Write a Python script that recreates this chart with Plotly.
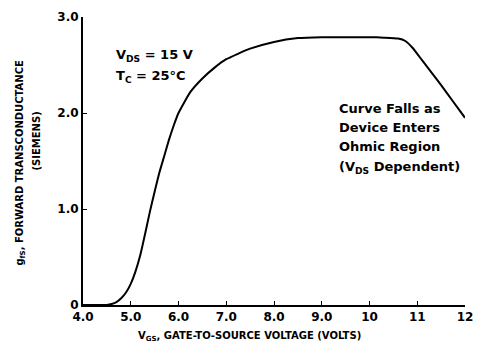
import plotly.graph_objects as go

vgs = [4.0, 4.5, 4.6, 4.7, 4.8, 4.9, 5.0, 5.1, 5.2, 5.3, 5.4, 5.5, 5.6, 5.7, 5.8, 5.9, 6.0, 6.25, 6.5, 6.75,
       7.0, 7.5, 8.0, 8.5, 9.0, 9.5, 10.0, 10.3, 10.6, 10.75, 10.9, 11.1, 11.3, 11.5, 11.75, 12.0]
gfs = [0.0, 0.0, 0.01, 0.03, 0.07, 0.13, 0.22, 0.35, 0.52, 0.74, 0.97, 1.18, 1.38, 1.55, 1.72, 1.87, 2.0, 2.22,
       2.36, 2.47, 2.56, 2.67, 2.74, 2.78, 2.79, 2.79, 2.79, 2.785, 2.775, 2.75, 2.68, 2.55, 2.42, 2.29, 2.12, 1.95]

x_ticks = [4, 5, 6, 7, 8, 9, 10, 11, 12]
x_labels = ["4.0", "5.0", "6.0", "7.0", "8.0", "9.0", "10", "11", "12"]
y_ticks = [0, 1, 2, 3]
y_labels = ["0", "1.0", "2.0", "3.0"]

FONT = "DejaVu Sans, sans-serif"

fig = go.Figure()
fig.add_trace(go.Scatter(x=vgs, y=gfs, mode="lines",
                         line=dict(color="black", width=2, shape="spline", smoothing=0.5),
                         hoverinfo="skip", showlegend=False))

fig.update_layout(
    width=483, height=350,
    margin=dict(l=83, r=10, t=17, b=45),
    paper_bgcolor="white", plot_bgcolor="white",
    font=dict(family=FONT, color="black", size=12, weight="bold"),
    xaxis=dict(range=[4, 12], tickvals=x_ticks, ticktext=x_labels, showgrid=False, zeroline=False,
               showline=True, linecolor="black", linewidth=2, ticks="inside", ticklen=4, tickcolor="black",
               tickfont=dict(size=12, family=FONT, weight="bold"), title=None,
               ticklabeloverflow="allow"),
    yaxis=dict(range=[0, 3], tickvals=y_ticks, ticktext=y_labels, showgrid=False, zeroline=False,
               showline=True, linecolor="black", linewidth=2, ticks="inside", ticklen=4, tickcolor="black",
               tickfont=dict(size=12, family=FONT, weight="bold"), title=None),
)

anns = [
    dict(x=4.65, y=2.594, text="V<sub>DS</sub> = 15 V"),
    dict(x=4.65, y=2.385, text="T<sub>C</sub> = 25°C"),
    dict(x=9.31, y=2.052, text="Curve Falls as"),
    dict(x=9.31, y=1.844, text="Device Enters"),
    dict(x=9.31, y=1.646, text="Ohmic Region"),
    dict(x=9.31, y=1.4375, text="(V<sub>DS</sub> Dependent)"),
]
for a in anns:
    fig.add_annotation(xref="x", yref="y", showarrow=False, xanchor="left", yanchor="middle",
                       font=dict(size=13, family=FONT, weight="bold"), **a)

fig.add_annotation(xref="paper", yref="paper", x=0.436, y=-0.111, xanchor="center", yanchor="middle", showarrow=False,
                   text="V<sub>GS</sub>, GATE-TO-SOURCE VOLTAGE (VOLTS)",
                   font=dict(size=10, family=FONT, weight="bold"))
fig.add_annotation(xref="paper", yref="paper", x=-0.166, y=0.493, xanchor="center", yanchor="middle", showarrow=False,
                   textangle=-90, text="g<sub>fS</sub>, FORWARD TRANSCONDUCTANCE",
                   font=dict(size=10, family=FONT, weight="bold"))
fig.add_annotation(xref="paper", yref="paper", x=-0.122, y=0.569, xanchor="center", yanchor="middle", showarrow=False,
                   textangle=-90, text="(SIEMENS)", font=dict(size=10, family=FONT, weight="bold"))

fig.write_html("out.html")
